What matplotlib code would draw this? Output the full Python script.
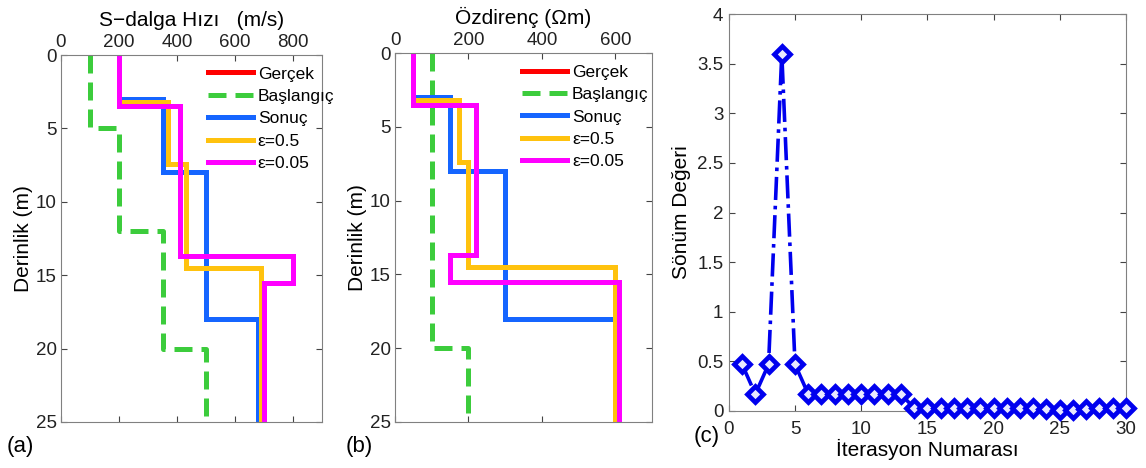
import numpy as np
import matplotlib
matplotlib.use('Agg')
import matplotlib.pyplot as plt

plt.rcParams['font.family'] = ['Liberation Sans', 'DejaVu Sans']

# layer boundaries (m) and values for each model, panel (a): S-wave velocity
vs_names = ['Gerçek', 'Başlangıç', 'Sonuç', 'ε=0.5', 'ε=0.05']
vs_depths = [[0, 3, 8, 18, 25],
             [0, 5, 12, 20, 25],
             [0, 3, 8, 18, 25],
             [0, 3.2, 7.4, 14.5, 25],
             [0, 3.5, 13.7, 15.5, 25]]
vs_values = [[200, 350, 500, 680],
             [100, 200, 350, 500],
             [200, 350, 500, 680],
             [200, 370, 430, 690],
             [200, 410, 800, 700]]

# panel (b): resistivity
rho_depths = [[0, 3, 8, 18, 25],
              [0, 20, 25],
              [0, 3, 8, 18, 25],
              [0, 3.2, 7.4, 14.5, 25],
              [0, 3.5, 13.7, 15.5, 25]]
rho_values = [[50, 150, 300, 600],
              [100, 200],
              [50, 150, 300, 600],
              [50, 175, 200, 600],
              [50, 220, 150, 610]]

# panel (c): damping per iteration
iters = np.arange(1, 31)
damping = [0.47, 0.17, 0.47, 3.6, 0.47, 0.17, 0.17, 0.17, 0.17, 0.17,
           0.17, 0.17, 0.17, 0.03, 0.03, 0.03, 0.03, 0.03, 0.03, 0.03,
           0.03, 0.03, 0.03, 0.02, 0.01, 0.015, 0.02, 0.03, 0.03, 0.03]

colors = ['#ff0000', '#3ccc3c', '#1565ff', '#ffc20e', '#ff00ff']
styles = ['-', (0, (3.6, 1.8)), '-', '-', '-']
spine_c = '#808080'
tick_fs = 13.5


def profile(ax, depths, values):
    for d, v, c, ls, name in zip(depths, values, colors, styles, vs_names):
        y = np.repeat(d, 2)[1:-1]
        x = np.repeat(v, 2)
        ax.plot(x, y, color=c, ls=ls, lw=3.6, label=name, solid_joinstyle='miter')
    ax.set_ylim(25, 0)
    ax.set_yticks([0, 5, 10, 15, 20, 25])
    ax.xaxis.tick_top()
    ax.xaxis.set_label_position('top')
    ax.tick_params(direction='in', top=True, bottom=True, left=True, right=True,
                   labelsize=tick_fs, length=4, color='#444444', pad=3,
                   labelcolor='#222222')
    for s in ax.spines.values():
        s.set_color(spine_c)
    ax.set_ylabel('Derinlik (m)', fontsize=15, labelpad=2)
    leg = ax.legend(loc='upper right', frameon=False, fontsize=12.5, handlelength=2.6,
                    labelspacing=0.42, borderaxespad=0.25, handletextpad=0.3)
    return leg


fig = plt.figure(figsize=(11.46, 4.68), dpi=100)

ax1 = fig.add_axes([0.0532, 0.0983, 0.228, 0.784])
l1 = profile(ax1, vs_depths, vs_values)
l1.set_bbox_to_anchor((1.09, 1.0), transform=ax1.transAxes)
ax1.set_xlim(0, 900)
ax1.set_xticks([0, 200, 400, 600, 800])
ax1.set_xlabel('S\u2212dalga Hızı   (m/s)', fontsize=15, labelpad=6)

ax2 = fig.add_axes([0.3447, 0.0983, 0.2243, 0.788])
l2 = profile(ax2, rho_depths, rho_values)
l2.set_bbox_to_anchor((1.03, 1.0), transform=ax2.transAxes)
ax2.set_xlim(0, 700)
ax2.set_xticks([0, 200, 400, 600])
ax2.set_xlabel('Özdirenç (Ωm)', fontsize=15, labelpad=6)

ax3 = fig.add_axes([0.636, 0.1218, 0.3464, 0.848])
ax3.plot(iters, damping, color='#0000ee', ls='-.', lw=2.6, marker='D', ms=8.5,
         mfc='#e8e8ff', mec='#0000ee', mew=3.4, clip_on=False, zorder=5)
ax3.set_xlim(0, 30)
ax3.set_ylim(0, 4)
ax3.set_xticks([0, 5, 10, 15, 20, 25, 30])
ax3.set_yticks([0, 0.5, 1, 1.5, 2, 2.5, 3, 3.5, 4])
ax3.set_yticklabels(['0', '0.5', '1', '1.5', '2', '2.5', '3', '3.5', '4'])
ax3.tick_params(direction='in', top=True, bottom=True, left=True, right=True,
                labelsize=tick_fs, length=4, color='#444444', pad=4,
                labelcolor='#222222')
ax3.tick_params(axis='x', pad=7)
for s in ax3.spines.values():
    s.set_color(spine_c)
ax3.set_xlabel('İterasyon Numarası', fontsize=15, labelpad=1)
ax3.set_ylabel('Sönüm Değeri', fontsize=15, labelpad=4)

fig.text(0.006, 0.035, '(a)', fontsize=16)
fig.text(0.302, 0.035, '(b)', fontsize=16)
fig.text(0.605, 0.055, '(c)', fontsize=16)

fig.savefig('out.png', dpi=100)
